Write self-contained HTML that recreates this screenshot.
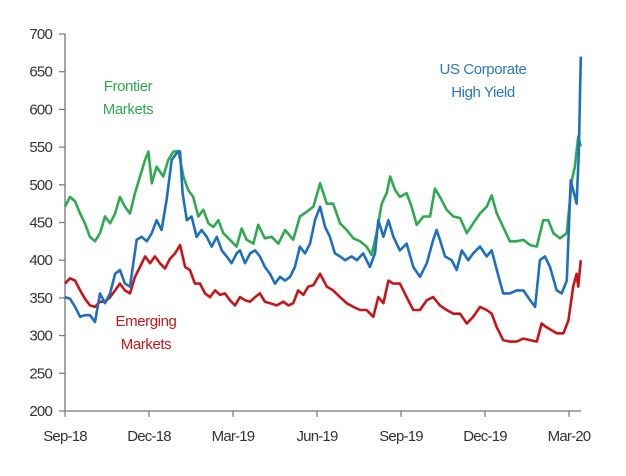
<!DOCTYPE html>
<html><head><meta charset="utf-8"><style>
body{margin:0;background:#fff;}
svg text{font-family:"Liberation Sans",Arial,sans-serif;}
</style></head><body>
<svg width="626" height="471" viewBox="0 0 626 471">
<g id="axes"></g><g id="series"></g>
<text x="128" y="91" fill="#2faa4f" font-size="15" text-anchor="middle" letter-spacing="-0.4">Frontier</text>
<text x="128" y="114" fill="#2faa4f" font-size="15" text-anchor="middle" letter-spacing="-0.4">Markets</text>
<text x="483" y="74" fill="#2a78c6" font-size="15" text-anchor="middle" letter-spacing="-0.4">US Corporate</text>
<text x="483" y="97" fill="#2a78c6" font-size="15" text-anchor="middle" letter-spacing="-0.4">High Yield</text>
<text x="146" y="326" fill="#c8151b" font-size="15" text-anchor="middle" letter-spacing="-0.4">Emerging</text>
<text x="146" y="349" fill="#c8151b" font-size="15" text-anchor="middle" letter-spacing="-0.4">Markets</text>
</svg>
<script>
const yTicks=[200,250,300,350,400,450,500,550,600,650,700];
const xTickMonths=[0,3,6,9,12,15,18];
const xTickLabels=["Sep-18","Dec-18","Mar-19","Jun-19","Sep-19","Dec-19","Mar-20"];
const frontierT=[0,.18,.36,.54,.71,.89,1.07,1.25,1.43,1.61,1.79,1.96,2.14,2.32,2.5,2.68,2.86,2.98,3.1,3.27,3.51,3.69,3.87,4.05,4.23,4.4,4.58,4.76,4.94,5.12,5.3,5.48,5.65,5.89,6.13,6.31,6.49,6.73,6.9,7.14,7.38,7.62,7.86,8.15,8.39,8.63,8.87,9.11,9.35,9.58,9.82,10.06,10.3,10.54,10.77,10.95,11.13,11.31,11.49,11.61,11.79,11.96,12.2,12.38,12.56,12.8,13.04,13.21,13.39,13.63,13.87,14.11,14.35,14.58,14.82,15.06,15.24,15.42,15.65,15.89,16.13,16.37,16.61,16.85,17.08,17.26,17.44,17.68,17.92,18.1,18.21,18.33,18.42];
const frontierV=[471,484,478,462,449,431,425,436,458,449,462,484,471,462,489,511,533,544,502,524,511,533,544,545,511,493,484,458,467,449,444,453,436,427,418,442,427,422,447,429,431,422,440,427,458,464,471,502,475,475,449,440,429,425,418,407,436,475,489,511,493,484,489,471,447,458,458,495,484,467,458,456,436,449,462,471,486,462,444,425,425,427,420,418,453,453,436,429,436,506,524,564,551];
const usHyT=[0,.18,.36,.54,.71,.89,1.07,1.25,1.43,1.61,1.79,1.96,2.14,2.32,2.44,2.56,2.74,2.92,3.1,3.27,3.45,3.63,3.81,3.99,4.11,4.2,4.35,4.52,4.7,4.88,5.06,5.24,5.42,5.6,5.77,5.95,6.13,6.25,6.43,6.61,6.79,6.96,7.14,7.32,7.5,7.68,7.86,8.04,8.21,8.39,8.57,8.75,8.93,9.11,9.29,9.46,9.64,9.82,10.0,10.24,10.42,10.65,10.89,11.07,11.19,11.37,11.55,11.73,11.96,12.2,12.44,12.68,12.92,13.15,13.27,13.39,13.57,13.81,13.99,14.17,14.4,14.58,14.82,15.06,15.24,15.42,15.65,15.89,16.13,16.37,16.61,16.79,16.96,17.14,17.32,17.56,17.74,17.92,18.06,18.15,18.27,18.35,18.42];
const usHyV=[351,349,338,325,327,327,318,356,343,356,382,387,369,365,396,427,431,425,436,453,440,480,533,542,544,489,453,458,431,440,431,418,431,413,405,396,409,413,396,409,413,405,391,382,369,378,373,378,391,418,409,422,453,471,444,431,409,405,400,405,400,409,391,409,453,431,453,431,413,422,391,378,396,427,440,427,405,400,387,413,400,409,418,405,413,387,356,356,360,360,347,338,400,405,391,360,356,373,506,493,475,542,670];
const emT=[0,.18,.36,.54,.71,.89,1.07,1.25,1.43,1.61,1.79,1.96,2.14,2.32,2.5,2.68,2.86,3.04,3.21,3.39,3.57,3.75,3.93,4.11,4.29,4.46,4.64,4.82,5.0,5.18,5.36,5.54,5.71,5.89,6.07,6.25,6.43,6.61,6.79,6.96,7.14,7.32,7.56,7.8,7.98,8.15,8.33,8.51,8.69,8.87,9.11,9.35,9.58,9.82,10.06,10.3,10.54,10.77,11.01,11.19,11.37,11.55,11.73,11.96,12.2,12.44,12.68,12.92,13.15,13.39,13.63,13.87,14.11,14.35,14.58,14.82,15.06,15.24,15.42,15.65,15.89,16.13,16.37,16.61,16.85,17.02,17.2,17.38,17.56,17.8,17.98,18.15,18.27,18.33,18.42];
const emV=[369,376,373,360,349,340,338,345,345,351,360,369,360,356,378,391,405,396,405,396,389,402,409,420,391,387,369,369,356,351,360,354,356,347,340,351,347,345,351,356,345,343,340,345,340,343,360,354,365,367,382,365,360,351,343,338,334,334,325,351,343,373,369,369,351,334,334,347,351,340,334,329,329,316,325,338,334,329,311,294,292,292,296,294,292,316,311,307,303,303,320,365,382,365,400];

const NS="http://www.w3.org/2000/svg";
function xs(t){return 65+t*28;}
function ys(v){return 34+(700-v)*0.754;}
const axes=document.getElementById('axes');
function mk(tag,attrs,parent){const e=document.createElementNS(NS,tag);for(const k in attrs)e.setAttribute(k,attrs[k]);parent.appendChild(e);return e;}
const yAxis=mk('line',{x1:65,y1:ys(700),x2:65,y2:ys(200),stroke:'#777','stroke-width':1.3},axes);


const xAxis=mk('line',{x1:65,y1:ys(200),x2:581,y2:ys(200),stroke:'#777','stroke-width':1.3},axes);


yTicks.forEach(v=>{
  mk('line',{x1:59,y1:ys(v),x2:65,y2:ys(v),stroke:'#777','stroke-width':1.2},axes);
  const t=mk('text',{x:52,y:ys(v)+5,'text-anchor':'end','font-size':15,fill:'#333','letter-spacing':'-0.8'},axes);
  t.textContent=v;
  
  
});
xTickMonths.forEach((m,i)=>{
  mk('line',{x1:xs(m),y1:ys(200),x2:xs(m),y2:ys(200)+6,stroke:'#777','stroke-width':1.2},axes);
  const t=mk('text',{x:xs(m),y:441,'text-anchor':'middle','font-size':15,fill:'#333','letter-spacing':'-0.8'},axes);
  t.textContent=xTickLabels[i];
  
  
});
const ser=document.getElementById('series');
function line(T,V,color,name){
  const d=T.map((t,i)=>(i?'L':'M')+xs(t).toFixed(1)+' '+ys(V[i]).toFixed(1)).join(' ');
  const p=mk('path',{d:d,fill:'none',stroke:color,'stroke-width':2.6,'stroke-linejoin':'round'},ser);
  
  
}
line(emT,emV,'#c8151b','emerging-markets-line');
line(frontierT,frontierV,'#2faa4f','frontier-markets-line');
line(usHyT,usHyV,'#1f6fc0','us-high-yield-line');
</script>
</body></html>
